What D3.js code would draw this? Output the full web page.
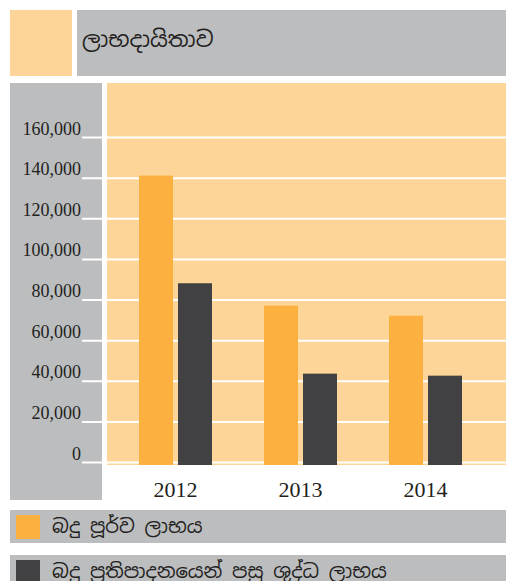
<!DOCTYPE html>
<html>
<head>
<meta charset="utf-8">
<script src="https://cdn.jsdelivr.net/npm/d3@7"></script>
<style>
  body { margin: 0; background: #fff; }
  .tick text { font-family: "Liberation Serif", "Times New Roman", serif; fill: #231f20; }
  .sinhala { font-family: "Noto Sans Sinhala", "Iskoola Pota", "Noto Sans", sans-serif; fill: #231f20; }
</style>
</head>
<body>
<svg id="chart" width="506" height="581"></svg>
<script>
const title = "ලාභදායිතාව";
const years = ["2012", "2013", "2014"];
const seriesNames = ["බදු පූර්ව ලාභය", "බදු ප්‍රතිපාදනයෙන් පසු ශුද්ධ ලාභය"];
const profitBeforeTax = [141000, 77000, 72000];
const netProfit = [88000, 43500, 42500];
const yTicks = [0, 20000, 40000, 60000, 80000, 100000, 120000, 140000, 160000];

const gray = "#bcbdbf";
const lightOrange = "#fed598";
const colourScale = d3.scaleOrdinal()
    .domain(seriesNames)
    .range(["#fbb040", "#414042"]);

const svg = d3.select("#chart");

// title block
svg.append("rect").attr("x", 10).attr("y", 10).attr("width", 62).attr("height", 66).attr("fill", lightOrange);
svg.append("rect").attr("x", 77).attr("y", 10).attr("width", 429).attr("height", 66).attr("fill", gray);
svg.append("text").attr("class", "sinhala")
    .attr("x", 82).attr("y", 47)
    .attr("font-size", 22)
    .text(title);

// panels
const plot = {left: 107, right: 506, top: 83, bottom: 465};
svg.append("rect").attr("x", 10).attr("y", 83).attr("width", 92).attr("height", 417).attr("fill", gray);
svg.append("rect").attr("x", plot.left).attr("y", plot.top)
    .attr("width", plot.right - plot.left).attr("height", plot.bottom - plot.top)
    .attr("fill", lightOrange);

const yScale = d3.scaleLinear().domain([0, 160000]).range([462, 137]);
const x0 = d3.scaleBand().domain(years).range([113, 488]).padding(0);
const x1 = d3.scaleBand().domain(seriesNames).range([0, x0.bandwidth()])
    .paddingInner(0.128).paddingOuter(0.667);

// gridlines + tick stubs
const yAxis = d3.axisLeft(yScale)
    .tickValues(yTicks)
    .tickFormat(d3.format(","))
    .tickSize(-(plot.right - 92))
    .tickPadding(11);
const yG = svg.append("g")
    .attr("transform", "translate(92,0)")
    .call(yAxis);
yG.select(".domain").remove();
yG.selectAll(".tick line").attr("stroke", "#fff").attr("stroke-width", 2).attr("x2", -10).attr("x1", plot.right - 92);
yG.selectAll(".tick text")
    .attr("font-size", 18)
    .attr("dy", -3)
    .attr("x", -11);

// bars
const data = years.map((y, i) => ({year: y, values: [
    {name: seriesNames[0], value: profitBeforeTax[i]},
    {name: seriesNames[1], value: netProfit[i]}
]}));

const groups = svg.selectAll(".group")
    .data(data)
    .enter().append("g")
    .attr("class", "group")
    .attr("transform", d => "translate(" + x0(d.year) + ",0)");

groups.selectAll("rect")
    .data(d => d.values)
    .enter().append("rect")
    .attr("x", d => x1(d.name))
    .attr("width", x1.bandwidth())
    .attr("y", d => yScale(d.value))
    .attr("height", d => plot.bottom - yScale(d.value))
    .attr("fill", d => colourScale(d.name));

// x axis labels
const xAxis = d3.axisBottom(x0).tickSize(0).tickPadding(0);
const xG = svg.append("g")
    .attr("transform", "translate(0," + plot.bottom + ")")
    .call(xAxis);
xG.select(".domain").remove();
xG.selectAll(".tick text")
    .attr("font-size", 22)
    .attr("dy", 0)
    .attr("y", 32)
    .attr("fill", "#000");

// legend
const legend = svg.selectAll(".legend")
    .data(seriesNames)
    .enter().append("g")
    .attr("class", "legend")
    .attr("transform", (d, i) => "translate(10," + (510 + i * 45) + ")");
legend.append("rect")
    .attr("width", 496).attr("height", 33)
    .attr("fill", gray);
legend.append("rect")
    .attr("x", 6).attr("y", 5)
    .attr("width", 24).attr("height", 24)
    .attr("fill", d => colourScale(d));
legend.append("text").attr("class", "sinhala")
    .attr("x", 42).attr("y", 23)
    .attr("font-size", 19.5)
    .text(d => d);
</script>
</body>
</html>
